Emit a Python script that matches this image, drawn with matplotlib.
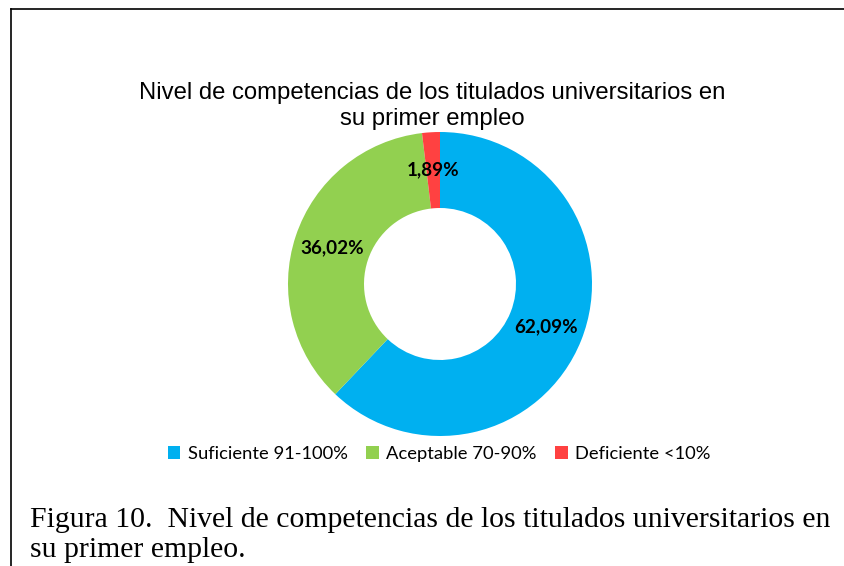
import matplotlib
matplotlib.use("Agg")
import matplotlib.pyplot as plt
from matplotlib.lines import Line2D
from matplotlib.patches import Patch

categories = ["Suficiente 91-100%", "Aceptable 70-90%", "Deficiente <10%"]
values = [62.09, 36.02, 1.89]
colors = ["#00B0F0", "#92D050", "#FF4141"]
title_lines = ["Nivel de competencias de los titulados universitarios en", "su primer empleo"]
caption_lines = ["Figura 10.  Nivel de competencias de los titulados universitarios en", "su primer empleo."]

W, H = 844, 566
fig = plt.figure(figsize=(W / 100, H / 100), dpi=100)
fig.patch.set_facecolor("white")

# border (top and left lines of the frame)
fig.add_artist(Line2D([11 / W, 1.0], [1 - 9 / H, 1 - 9 / H], transform=fig.transFigure, color="black", lw=1.2))
fig.add_artist(Line2D([11 / W, 11 / W], [0.0, 1 - 9 / H], transform=fig.transFigure, color="black", lw=1.2))

cx, cy, r = 440, 284, 152
ax = fig.add_axes([(cx - r) / W, (H - cy - r) / H, 2 * r / W, 2 * r / H])
wedges, texts, autotexts = ax.pie(
    values, colors=colors, startangle=90, counterclock=False,
    wedgeprops=dict(width=0.5, edgecolor="none"),
    autopct=lambda p: f"{p:.2f}%".replace(".", ","), pctdistance=0.75,
    textprops=dict(family="Lato", fontweight="bold", fontsize=13.6, color="black"),
)
ax.set_xlim(-1, 1)
ax.set_ylim(-1, 1)
ax.set_aspect("equal")

for line, base in zip(title_lines, [99, 125]):
    fig.text(432 / W, 1 - base / H, line, ha="center", va="baseline", family="Liberation Sans",
             fontsize=17.2)

handles = [Patch(facecolor=c, edgecolor="none") for c in colors]
fig.legend(handles, categories, loc="center", bbox_to_anchor=(439 / W, 1 - 454 / H), ncol=3,
           frameon=False, prop=dict(family="Lato", size=13.2), handlelength=0.7, handleheight=0.7,
           handletextpad=0.4, columnspacing=1.0)

for line, base in zip(caption_lines, [527, 557]):
    fig.text(30 / W, 1 - base / H, line, ha="left", va="baseline", family="Liberation Serif",
             fontsize=21.4)

fig.savefig("out.png", dpi=100, facecolor="white")
